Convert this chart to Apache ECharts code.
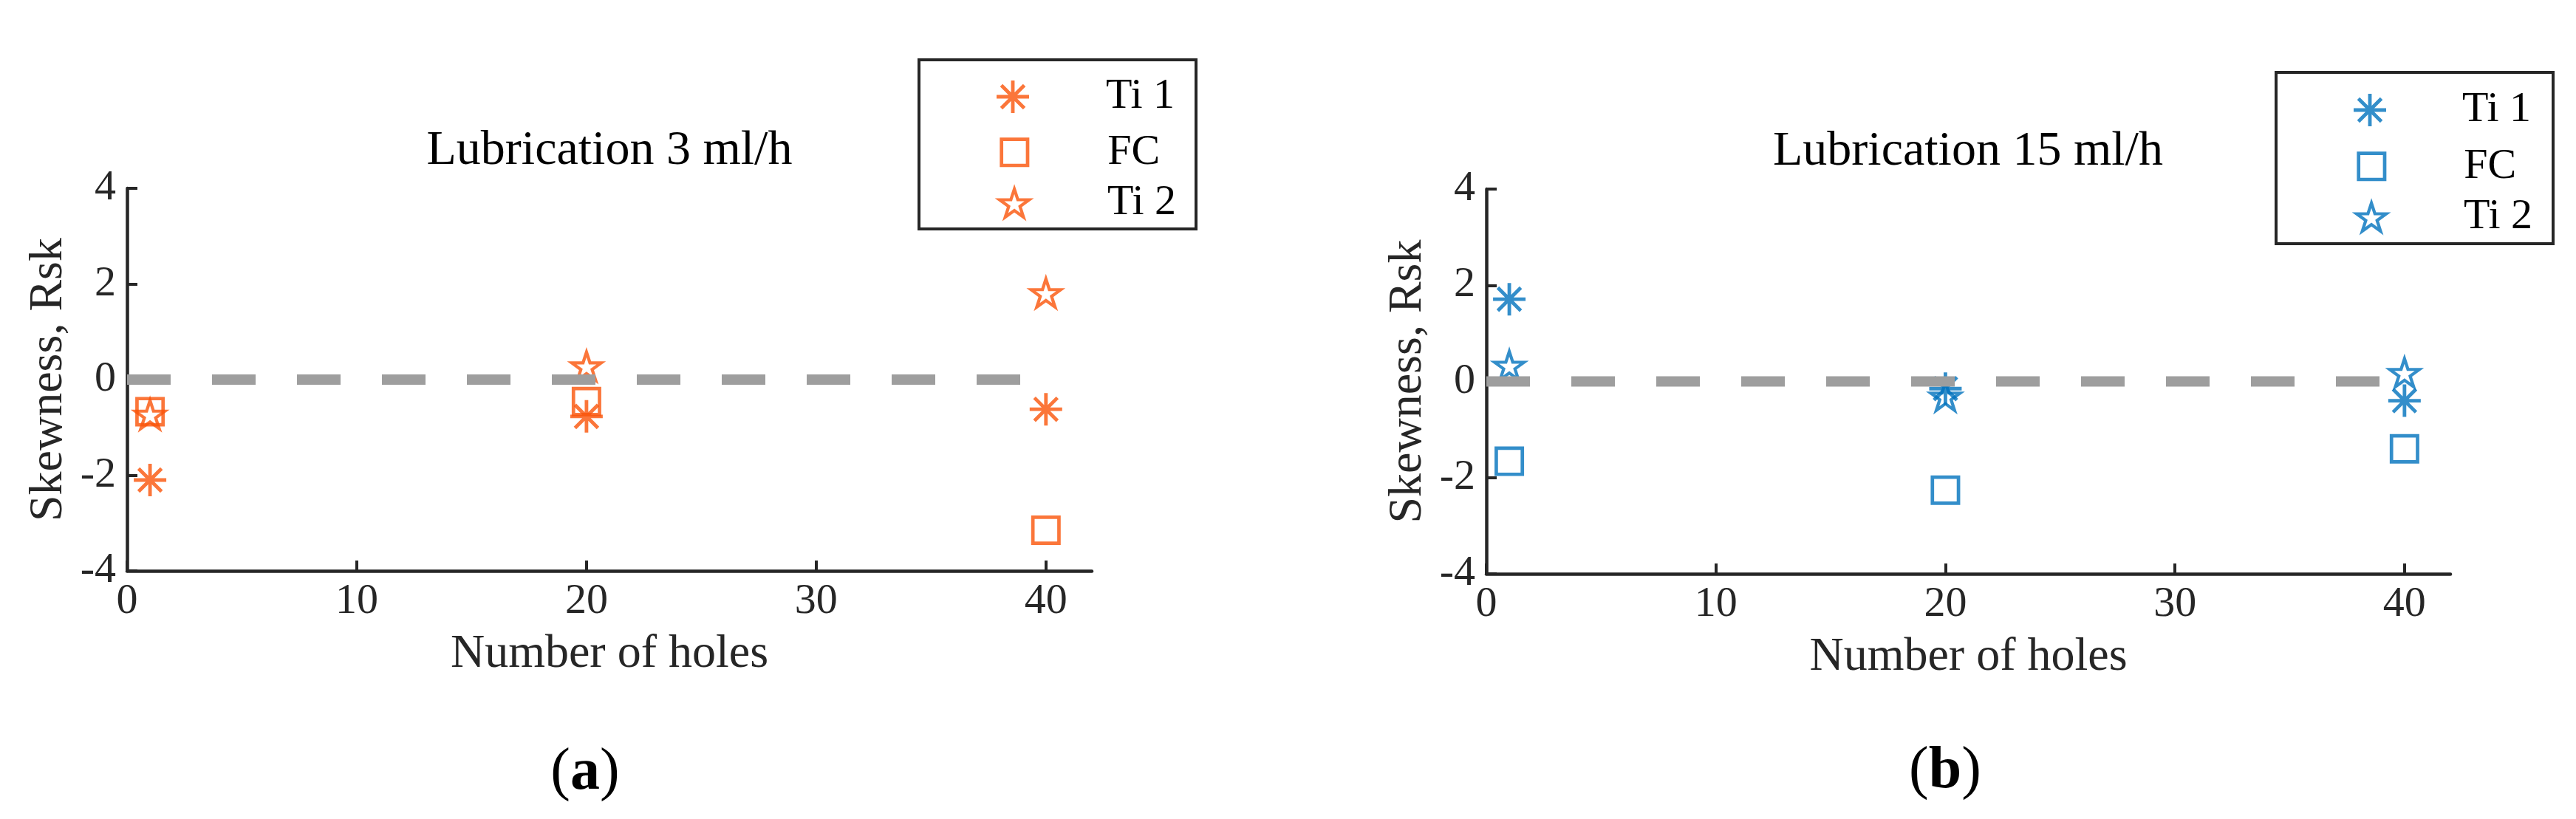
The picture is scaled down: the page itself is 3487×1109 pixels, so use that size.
<!DOCTYPE html>
<html><head><meta charset="utf-8">
<script src="https://cdn.jsdelivr.net/npm/echarts@6/dist/echarts.min.js"></script>
<style>
html,body{margin:0;padding:0;background:#fff;width:3487px;height:1109px;overflow:hidden}
#a{position:absolute;left:0;top:0;width:1744px;height:1109px}
#b{position:absolute;left:1744px;top:0;width:1743px;height:1109px}
</style></head><body>
<div id="a"></div><div id="b"></div>
<script>
// ---- data ----
const holes = [1, 20, 40];
const ti1Low = [-2.1, -0.77, -0.62];
const fcLow = [-0.67, -0.46, -3.15];
const ti2Low = [-0.73, 0.28, 1.81];
const ti1High = [1.71, -0.15, -0.40];
const fcHigh = [-1.66, -2.26, -1.40];
const ti2High = [0.33, -0.31, 0.18];
const refLineX = [0, 40];
const refLineY = [0, 0];
const xTickValues = [0, 10, 20, 30, 40];
const seriesNames = ['Ti 1', 'FC', 'Ti 2'];
const titles = ['Lubrication 3 ml/h', 'Lubrication 15 ml/h'];
const panelTags = ['a', 'b'];
const xName = 'Number of holes';
const yName = 'Skewness, Rsk';

// ---- style ----
const ORANGE = '#FA5409', BLUE = '#0072BD';
const AXIS = '#262626';
const FONT = '"Liberation Serif", "DejaVu Serif", serif';
const ASTERISK = 'path://M44.5 0L55.5 0L55.5 100L44.5 100Z M0 44.5L100 44.5L100 55.5L0 55.5Z M18.53 10.75L89.25 81.47L81.47 89.25L10.75 18.53Z M89.25 18.53L18.53 89.25L10.75 81.47L81.47 10.75Z';
const STAR = 'path://M50 0L61.23 34.55L97.55 34.55L68.16 55.9L79.39 90.45L50 69.1L20.61 90.45L31.84 55.9L2.45 34.55L38.77 34.55Z';
const NONE = 'rgba(0,0,0,0)';

function makeOption(cfg) {
  const c = cfg.color;
  const marks = [
    {name: seriesNames[0], symbol: ASTERISK, w: 44, h: 44, style: {color: c, borderWidth: 0}, vals: cfg.ti1},
    {name: seriesNames[1], symbol: 'rect', w: 35.3, h: 35.3, style: {color: NONE, borderColor: c, borderWidth: 4.7}, vals: cfg.fc},
    {name: seriesNames[2], symbol: STAR, w: 40, h: 38, style: {color: NONE, borderColor: c, borderWidth: 4.2}, vals: cfg.ti2}
  ];
  const series = marks.map(m => ({
    type: 'scatter', name: m.name, symbol: m.symbol, symbolSize: [m.w, m.h],
    itemStyle: m.style, data: holes.map((h, i) => [h, m.vals[i]]),
    z: 2, silent: true, emphasis: {disabled: true}
  }));
  series.push({
    type: 'line', name: 'zero', data: refLineX.map((x, i) => [x, refLineY[i]]),
    symbol: 'none', silent: true, z: 3,
    lineStyle: {color: '#9E9E9E', width: 14, type: [59, 56], cap: 'butt'}
  });
  const legend = marks.map((m, i) => ({
    data: [{name: m.name, icon: m.symbol}],
    selectedMode: false, orient: 'horizontal', padding: 0, itemGap: 0,
    left: cfg.markerX - m.w / 2, top: cfg.rows[i] - m.h / 2,
    itemWidth: m.w, itemHeight: m.h,
    itemStyle: Object.assign({}, m.style),
    textStyle: {fontFamily: FONT, fontSize: 58, color: '#000', lineHeight: m.h,
      padding: [0, 0, 0, cfg.textX - cfg.markerX - m.w / 2 - 5]}
  }));
  return {
    animation: false,
    backgroundColor: '#fff',
    grid: {left: cfg.gridLeft, top: cfg.gridTop, width: cfg.gridW, height: cfg.gridH, containLabel: false},
    xAxis: {
      type: 'value', min: 0, max: 42, interval: 10,
      axisLine: {show: true, onZero: false, lineStyle: {color: AXIS, width: 4.5}},
      axisTick: {show: true, inside: true, length: 14, lineStyle: {color: AXIS, width: 4}, customValues: xTickValues},
      axisLabel: {customValues: xTickValues, fontFamily: FONT, fontSize: 58, color: AXIS, margin: 13},
      splitLine: {show: false},
      name: xName, nameLocation: 'middle', nameGap: 81,
      nameTextStyle: {fontFamily: FONT, fontSize: 64, color: AXIS}
    },
    yAxis: {
      type: 'value', min: -4, max: 4, interval: 2,
      axisLine: {show: true, onZero: false, lineStyle: {color: AXIS, width: 4.5}},
      axisTick: {show: true, inside: true, length: 14, lineStyle: {color: AXIS, width: 4}},
      axisLabel: {fontFamily: FONT, fontSize: 58, color: AXIS, margin: 15},
      splitLine: {show: false},
      name: yName, nameLocation: 'middle', nameRotate: 90, nameGap: 74,
      nameTextStyle: {fontFamily: FONT, fontSize: 64, color: AXIS}
    },
    legend: legend,
    graphic: [
      {type: 'rect', z: 1, silent: true,
        shape: {x: cfg.box[0] + 2, y: cfg.box[1] + 2, width: cfg.box[2] - cfg.box[0] - 4, height: cfg.box[3] - cfg.box[1] - 4},
        style: {fill: '#fff', stroke: AXIS, lineWidth: 4}},
      {type: 'text', x: cfg.titleX, y: cfg.titleY, silent: true,
        style: {text: cfg.title, fontFamily: FONT, fontSize: 66, fill: '#000', align: 'center', verticalAlign: 'middle'}},
      {type: 'text', x: cfg.tagX, y: cfg.tagY, silent: true,
        style: {text: '({b|' + cfg.tag + '})', fontFamily: FONT, fontSize: 80, fill: '#000', align: 'center', verticalAlign: 'middle',
          rich: {b: {fontFamily: FONT, fontSize: 80, fontWeight: 'bold', fill: '#000'}}}}
    ],
    series: series
  };
}

const chartA = echarts.init(document.getElementById('a'), null, {renderer: 'canvas'});
chartA.setOption(makeOption({
  color: ORANGE, ti1: ti1Low, fc: fcLow, ti2: ti2Low,
  gridLeft: 172, gridTop: 255, gridW: 1306, gridH: 518,
  box: [1242, 79, 1621, 312], markerX: 1371, rows: [124, 195, 265], textX: 1497,
  title: titles[0], titleX: 825, titleY: 205, tag: panelTags[0], tagX: 792, tagY: 1047
}));
const chartB = echarts.init(document.getElementById('b'), null, {renderer: 'canvas'});
chartB.setOption(makeOption({
  color: BLUE, ti1: ti1High, fc: fcHigh, ti2: ti2High,
  gridLeft: 268, gridTop: 256, gridW: 1305, gridH: 521,
  box: [1335, 96, 1714, 332], markerX: 1464, rows: [142, 214, 284], textX: 1589,
  title: titles[1], titleX: 920, titleY: 206, tag: panelTags[1], tagX: 889, tagY: 1045
}));
</script></body></html>
